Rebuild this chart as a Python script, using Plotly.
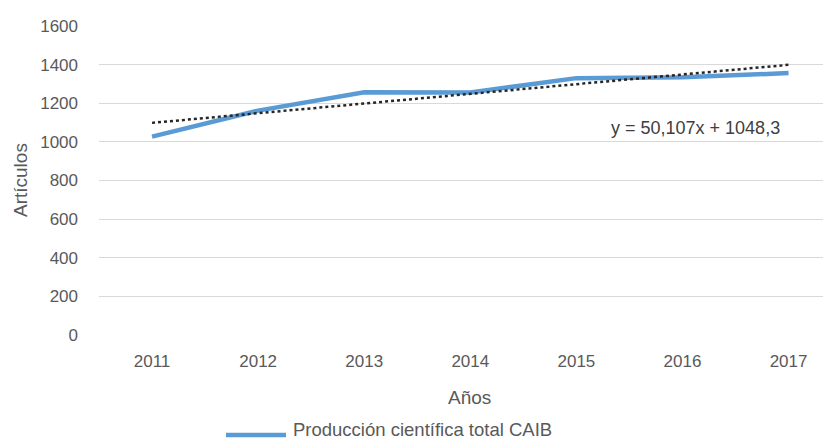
import plotly.graph_objects as go

years = ["2011", "2012", "2013", "2014", "2015", "2016", "2017"]
articulos = [1027, 1162, 1257, 1256, 1330, 1334, 1356]
slope = 50.107
intercept = 1048.3
y_ticks = [0, 200, 400, 600, 800, 1000, 1200, 1400, 1600]
series_name = "Producción científica total CAIB"
equation = "y = 50,107x + 1048,3"

trend = [slope * (i + 1) + intercept for i in range(len(years))]

FONT = "Liberation Sans"
GREY = "#595959"
BLUE = "#5B9BD5"

OFF = 8  # page body margin offset
W, H = 831 - OFF, 441 - OFF
L, T, PW, PH = 99 - OFF, 26 - OFF, 732, 309


def px(x):
    return (x - OFF - L) / PW


def py(y):
    return (T + PH - (y - OFF)) / PH


fig = go.Figure()
fig.add_trace(go.Scatter(
    x=years, y=articulos, mode="lines", name=series_name,
    line=dict(color=BLUE, width=4.5), showlegend=False,
))
fig.add_trace(go.Scatter(
    x=years, y=trend, mode="lines", name="Lineal",
    line=dict(color="#262626", width=2.5, dash="dot"), showlegend=False,
))

fig.update_layout(
    width=W, height=H,
    margin=dict(l=L, r=W - L - PW, t=T, b=H - T - PH),
    paper_bgcolor="white", plot_bgcolor="white",
    font=dict(family=FONT, size=16, color=GREY),
    showlegend=False,
    xaxis=dict(
        type="category", range=[-0.5, 6.4], showgrid=False, showline=False,
        ticks="", tickfont=dict(size=17, color=GREY), ticklabelstandoff=14,
        zeroline=False, automargin=False,
    ),
    yaxis=dict(
        range=[0, 1600], tickvals=y_ticks, showgrid=True, gridcolor="#D9D9D9",
        gridwidth=1, zeroline=False, showline=False, ticks="",
        tickfont=dict(size=17, color=GREY), ticklabelstandoff=20,
        automargin=False,
    ),
    shapes=[
        dict(type="line", xref="paper", yref="paper", x0=px(226), x1=px(286),
             y0=py(435), y1=py(435), line=dict(color=BLUE, width=4.5)),
    ],
    annotations=[
        dict(text="Artículos", xref="paper", yref="paper", x=px(20),
             y=py(180), textangle=-90, showarrow=False,
             font=dict(size=19, color=GREY), xanchor="center", yanchor="middle"),
        dict(text="Años", xref="paper", yref="paper", x=px(470),
             y=py(397), showarrow=False,
             font=dict(size=19, color=GREY), xanchor="center", yanchor="middle"),
        dict(text=equation, xref="paper", yref="paper", x=px(609),
             y=py(128), showarrow=False,
             font=dict(size=18, color="#404040"), xanchor="left", yanchor="middle"),
        dict(text=series_name, xref="paper", yref="paper", x=px(291),
             y=py(429), showarrow=False,
             font=dict(size=18.5, color=GREY), xanchor="left", yanchor="middle"),
    ],
)

fig.write_html("out.html")
